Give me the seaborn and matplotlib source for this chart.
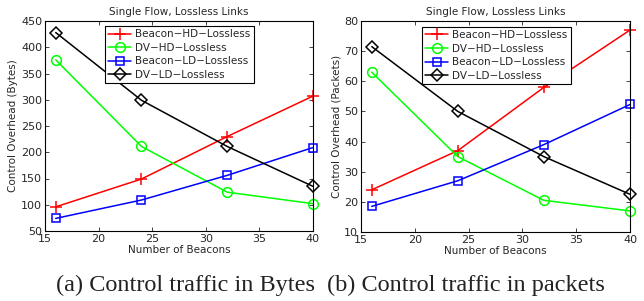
import matplotlib
matplotlib.use("Agg")
import matplotlib.pyplot as plt
import seaborn as sns
import pandas as pd

beacons = [16, 24, 32, 40]
series_names = ["Beacon\u2212HD\u2212Lossless", "DV\u2212HD\u2212Lossless",
                "Beacon\u2212LD\u2212Lossless", "DV\u2212LD\u2212Lossless"]

bytes_beacon_hd = [96, 149, 230, 307]
bytes_dv_hd = [376, 211, 124, 102]
bytes_beacon_ld = [74, 109, 156, 209]
bytes_dv_ld = [428, 299, 211, 135]

pkts_beacon_hd = [24, 37, 58, 77]
pkts_dv_hd = [63, 35, 20.5, 17]
pkts_beacon_ld = [18.5, 27, 39, 52.3]
pkts_dv_ld = [71.5, 50, 35, 22.5]

title = "Single Flow, Lossless Links"
xlabel = "Number of Beacons"
ylabels = ["Control Overhead (Bytes)", "Control Overhead (Packets)"]
captions = ["(a) Control traffic in Bytes", "(b) Control traffic in packets"]

colors = ["#ff0000", "#00ff00", "#0000ff", "#000000"]
markers = ["+", "o", "s", "D"]
msizes = [8, 7, 6, 6]

def frame(vals):
    rows = []
    for name, v in zip(series_names, vals):
        for b, y in zip(beacons, v):
            rows.append({"beacons": b, "value": y, "series": name})
    return pd.DataFrame(rows)

df_bytes = frame([bytes_beacon_hd, bytes_dv_hd, bytes_beacon_ld, bytes_dv_ld])
df_pkts = frame([pkts_beacon_hd, pkts_dv_hd, pkts_beacon_ld, pkts_dv_ld])

sns.set_style("ticks")
plt.rcParams["font.family"] = ["DejaVu Sans"]
plt.rcParams["xtick.direction"] = "in"
plt.rcParams["ytick.direction"] = "in"

fig = plt.figure(figsize=(6.44, 3.01), dpi=100)
W, H = 644, 301
ax1 = fig.add_axes([45 / W, 1 - 231 / H, (313 - 45) / W, (231 - 21) / H])
ax2 = fig.add_axes([361 / W, 1 - 232 / H, (630 - 361) / W, (232 - 21) / H])

palette = dict(zip(series_names, colors))
mk = dict(zip(series_names, markers))
ms = dict(zip(series_names, msizes))

for ax, df, ylab, ylim, yticks, anchor in [
    (ax1, df_bytes, ylabels[0], (50, 450), range(50, 451, 50), (0.224, 0.976)),
    (ax2, df_pkts, ylabels[1], (10, 80), range(10, 81, 10), (0.227, 0.972)),
]:
    for name in series_names:
        sub = df[df["series"] == name]
        sns.lineplot(data=sub, x="beacons", y="value", ax=ax, color=palette[name],
                     marker=mk[name], markersize=ms[name],
                     markerfacecolor="none", markeredgecolor=palette[name],
                     markeredgewidth=1.1, linewidth=1.1, label=name, clip_on=False)
    ax.set_xlim(15, 40)
    ax.set_ylim(*ylim)
    ax.set_xticks(range(15, 41, 5))
    ax.set_yticks(list(yticks))
    ax.tick_params(labelsize=8, length=3, width=0.6, top=True, right=True, pad=2)
    for s in ax.spines.values():
        s.set_visible(True)
        s.set_linewidth(0.8)
        s.set_color("black")
    ax.set_xlabel(xlabel, fontsize=7.5, labelpad=1)
    ax.set_ylabel(ylab, fontsize=7.5, labelpad=2)
    ax.set_title(title, fontsize=7.5, pad=4)
    leg = ax.legend(loc="upper left", bbox_to_anchor=anchor,
                    fontsize=7.5, frameon=True, fancybox=False, edgecolor="black",
                    borderpad=0.3, labelspacing=0.35, handlelength=2.2, handletextpad=0.4,
                    borderaxespad=0.0, framealpha=1)
    leg.get_frame().set_linewidth(0.8)

fig.text(185 / W, 1 - 285 / H, captions[0], ha="center", va="center",
         fontsize=17.5, family="Liberation Serif", color="#222222")
fig.text(466 / W, 1 - 285 / H, captions[1], ha="center", va="center",
         fontsize=17.5, family="Liberation Serif", color="#222222")

fig.savefig("out.png", dpi=100)
